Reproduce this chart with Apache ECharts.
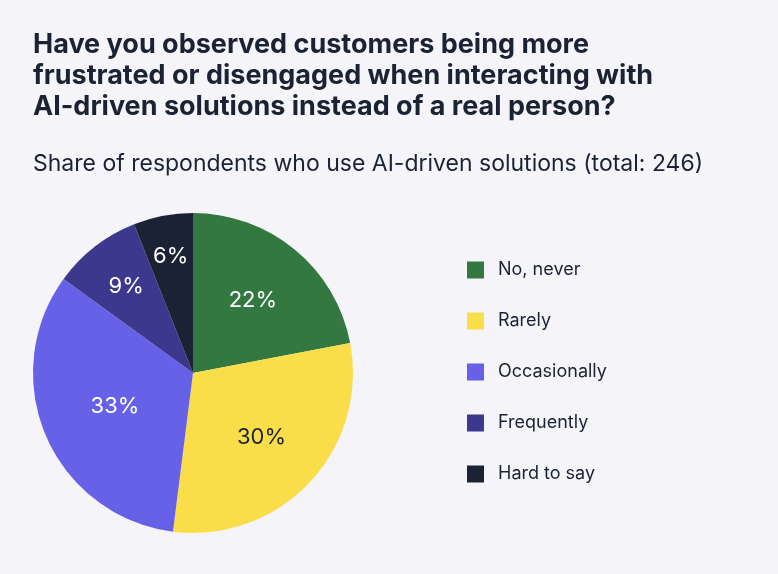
<!DOCTYPE html>
<html><head><meta charset="utf-8">
<script src="https://cdn.jsdelivr.net/npm/echarts@6/dist/echarts.min.js"></script>
<style>html,body{margin:0;padding:0;background:#f5f5f9;}#c{width:778px;height:574px;}</style>
</head><body><div id="c"></div>
<script>
const categories = ['No, never', 'Rarely', 'Occasionally', 'Frequently', 'Hard to say'];
const values = [22, 30, 33, 9, 6];
const colors = ['#337840', '#f9de4a', '#6761e8', '#3b388e', '#1b2233'];
const labelColors = ['#ffffff', '#1b2233', '#ffffff', '#ffffff', '#ffffff'];
const labelRadiusExtra = [-5, -5, -14, 10, 20];

const chart = echarts.init(document.getElementById('c'), null, {renderer: 'canvas'});
const font = 'Inter, "Noto Sans", sans-serif';
const cx = 193, cy = 373, R = 160;

function labelOffset(i) {
  const total = values.reduce((a, b) => a + b, 0);
  let before = 0;
  for (let k = 0; k < i; k++) before += values[k];
  const mid = (before + values[i] / 2) / total * 2 * Math.PI;
  const d = labelRadiusExtra[i];
  return [d * Math.sin(mid), -d * Math.cos(mid)];
}

chart.setOption({
  backgroundColor: '#f5f5f9',
  animation: false,
  title: [{
    text: 'Have you observed customers being more\nfrustrated or disengaged when interacting with\nAI-driven solutions instead of a real person?',
    left: 33, top: 29, padding: 0,
    textStyle: {fontFamily: font, fontSize: 27, fontWeight: 'bold', color: '#1b2233', lineHeight: 31}
  }, {
    text: 'Share of respondents who use AI-driven solutions (total: 246)',
    left: 33, top: 150, padding: 0,
    textStyle: {fontFamily: font, fontSize: 23, fontWeight: 'normal', color: '#1b2233', lineHeight: 28}
  }],
  legend: {
    orient: 'vertical',
    left: 467, top: 261, padding: 0,
    itemWidth: 17, itemHeight: 17, itemGap: 33,
    icon: 'rect',
    data: categories,
    textStyle: {fontFamily: font, fontSize: 18, color: '#1b2233', padding: [0, 0, 0, 9], lineHeight: 17}
  },
  series: [{
    type: 'pie',
    center: [cx, cy], radius: [0, R],
    startAngle: 90, clockwise: true,
    label: {show: false}, labelLine: {show: false},
    emphasis: {disabled: true},
    itemStyle: {borderWidth: 0},
    data: categories.map((c, i) => ({name: c, value: values[i], itemStyle: {color: colors[i]}}))
  }, {
    type: 'pie',
    center: [cx, cy], radius: [0, 2 * R * 0.6],
    startAngle: 90, clockwise: true,
    silent: true,
    legendHoverLink: false,
    itemStyle: {color: 'rgba(0,0,0,0)', borderWidth: 0},
    labelLine: {show: false},
    emphasis: {disabled: true},
    data: categories.map((c, i) => ({
      name: c + ' ', value: values[i],
      label: {
        show: true, position: 'inside',
        formatter: values[i] + '%',
        color: labelColors[i], fontFamily: font, fontSize: 22,
        offset: labelOffset(i)
      }
    }))
  }]
});
</script></body></html>
